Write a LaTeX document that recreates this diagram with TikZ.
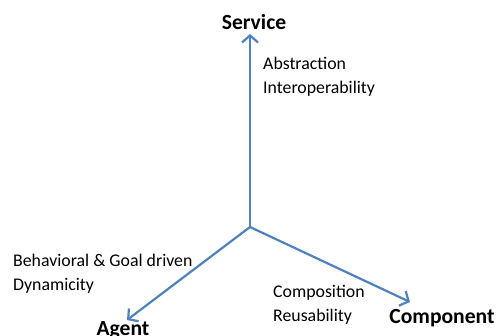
\documentclass[tikz,border=0pt]{standalone}
\usepackage{fontspec}
\setmainfont{Carlito}
\usetikzlibrary{arrows.meta}
\definecolor{axisblue}{HTML}{4F81BD}
\begin{document}
\begin{tikzpicture}[x=1pt,y=-1pt,
  axis/.style={draw=axisblue,line width=2.2pt,-{Straight Barb[length=7pt,width=16pt,line width=2.2pt]}},
  title/.style={font=\fontsize{21.6}{24}\selectfont\bfseries,inner sep=0pt},
  note/.style={font=\fontsize{17.8}{24.5}\selectfont,inner sep=0pt,anchor=west,align=left}]
  \useasboundingbox (0,0) rectangle (499,336);
  % origin of the three axes and their end points
  \coordinate (o) at (250,227);
  \coordinate (ts) at (250,34);
  \coordinate (ta) at (127,320);
  \coordinate (tc) at (410,302);
  \draw[axis] (o) -- (ts);
  \draw[axis] (o) -- (ta);
  \draw[axis] (o) -- (tc);
  % axis titles
  \node[title] (service) at (254,22) {Service};
  \node[title] (agent) at (123,330) {Agent};
  \node[title] (component) at (442,318) {Component};
  % properties of each axis
  \node[note] (sprops) at (263,77) {Abstraction\\Interoperability};
  \node[note] (aprops) at (13,274) {Behavioral \& Goal driven\\Dynamicity};
  \node[note] (cprops) at (273,305) {Composition\\Reusability};
\end{tikzpicture}
\end{document}
